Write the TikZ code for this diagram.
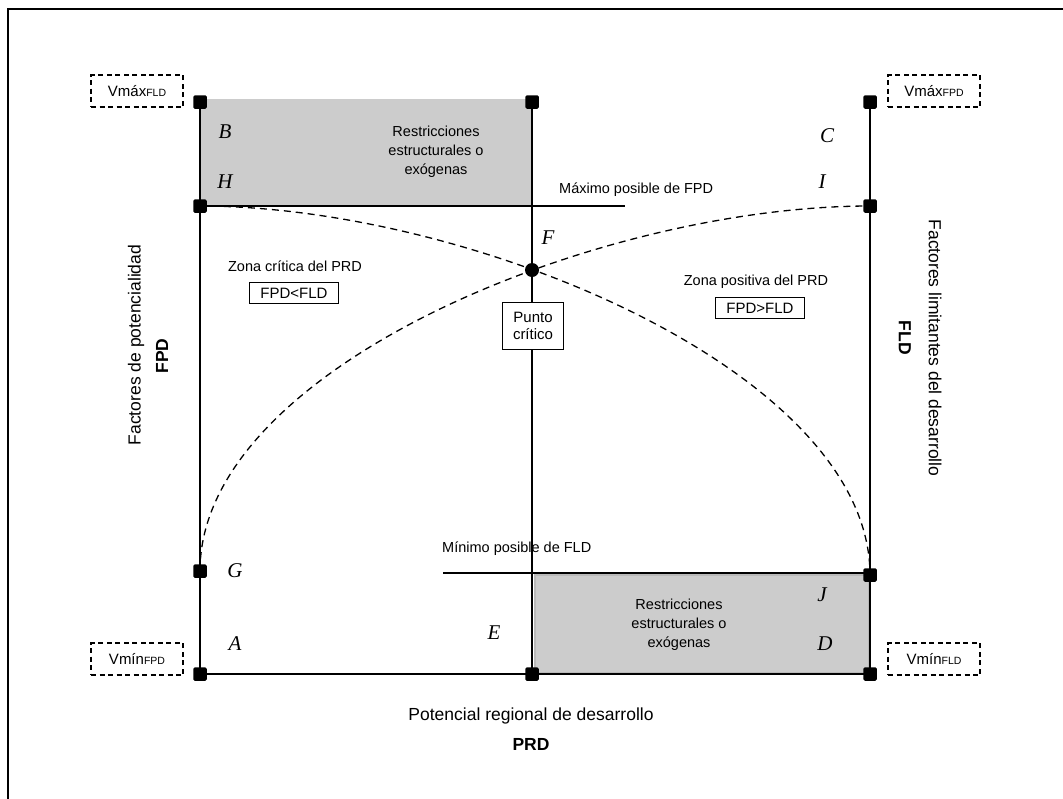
\documentclass[tikz,border=0pt]{standalone}
\usepackage{fontspec}
\setmainfont{Liberation Sans}
\newfontfamily\letterfont{Liberation Serif}
\definecolor{zonegray}{HTML}{CCCCCC}
\newcommand{\subtag}[1]{{\fontsize{10.5}{12}\selectfont #1}}
\begin{document}
\begin{tikzpicture}[x=1pt,y=-1pt,
  frameline/.style={line width=2pt},
  mainline/.style={line width=1.5pt},
  marker/.style={rectangle,fill=black,minimum size=13.5pt,inner sep=0pt,rounded corners=1.5pt},
  critdot/.style={circle,fill=black,minimum size=14pt,inner sep=0pt},
  curveline/.style={dash pattern=on 7pt off 5pt,line width=1.3pt},
  vbox/.style={draw,dash pattern=on 5pt off 3.5pt,line width=1.3pt,minimum width=92pt,minimum height=32pt,inner sep=0pt,font=\fontsize{15}{17}\selectfont},
  pointlbl/.style={font=\letterfont\itshape\fontsize{21}{24}\selectfont},
  smalltxt/.style={font=\fontsize{14.5}{19}\selectfont,align=center,inner sep=0pt},
  infobox/.style={draw,fill=white,line width=1.3pt,inner sep=0pt,font=\fontsize{15}{17}\selectfont,align=center},
  axislbl/.style={font=\fontsize{17.5}{21}\selectfont,inner sep=0pt},
  axisbold/.style={font=\fontsize{17.5}{21}\selectfont\bfseries,inner sep=0pt}
]
\useasboundingbox (0,0) rectangle (1063,798);

% outer frame (top and left sides)
\coordinate (frameBL) at (8,799);
\coordinate (frameTL) at (8,9);
\coordinate (frameTR) at (1063,9);
\draw[frameline] (frameBL) -- (frameTL) -- (frameTR);

% key points
\coordinate (B) at (200,102);
\coordinate (Bm) at (532,102);
\coordinate (C) at (870,102);
\coordinate (H) at (200,206);
\coordinate (I) at (870,206);
\coordinate (G) at (200,571);
\coordinate (J) at (870,575);
\coordinate (A) at (200,674);
\coordinate (E) at (532,674);
\coordinate (D) at (870,674);
\coordinate (F) at (532,270);
\coordinate (maxEnd) at (625,206);
\coordinate (minStart) at (443,573);

% shaded restriction zones
\fill[zonegray] (200,99) rectangle (532,206);
\filldraw[fill=zonegray,draw=gray!55,line width=1.5pt] (535,575) rectangle (869,673);

% frame lines of the diagram
\draw[mainline] (B) -- (A) -- (D) -- (C);
\draw[mainline] (Bm) -- (E);
\draw[mainline] (H) -- (maxEnd);
\draw[mainline] (minStart) -- (minStart -| J);

% FPD and FLD curves crossing at the critical point
\draw[curveline] (H) .. controls (470,206) and (870,371) .. (J);
\draw[curveline] (G) .. controls (200,367) and (600,206) .. (I);

% markers
\foreach \p in {B,Bm,C,H,I,G,J,A,E,D}
  \node[marker] (m\p) at (\p) {};
\node[critdot] (mF) at (F) {};

% point letters
\node[pointlbl] (lB) at (225,132) {B};
\node[pointlbl] (lH) at (225,182) {H};
\node[pointlbl] (lC) at (827,136) {C};
\node[pointlbl] (lI) at (822,182) {I};
\node[pointlbl] (lF) at (548,238) {F};
\node[pointlbl] (lG) at (235,571) {G};
\node[pointlbl] (lA) at (235,644) {A};
\node[pointlbl] (lE) at (494,633) {E};
\node[pointlbl] (lJ) at (822,595) {J};
\node[pointlbl] (lD) at (825,644) {D};

% extreme values
\node[vbox] (vmaxFLD) at (137,91) {Vmáx\subtag{FLD}};
\node[vbox] (vmaxFPD) at (934,91) {Vmáx\subtag{FPD}};
\node[vbox] (vminFPD) at (137,659) {Vmín\subtag{FPD}};
\node[vbox] (vminFLD) at (934,659) {Vmín\subtag{FLD}};

% zone texts
\node[smalltxt] (rtop) at (436,152) {Restricciones\\estructurales o\\exógenas};
\node[smalltxt] (rbot) at (679,625) {Restricciones\\estructurales o\\exógenas};
\node[smalltxt,anchor=west] (maxlbl) at (559,190) {Máximo posible de FPD};
\node[smalltxt,anchor=west] (minlbl) at (442,549) {Mínimo posible de FLD};
\node[smalltxt] (zcrit) at (295,266) {Zona crítica del PRD};
\node[infobox,minimum width=89pt,minimum height=21pt] (bcrit) at (294,293) {FPD<FLD};
\node[smalltxt] (zpos) at (756,282) {Zona positiva del PRD};
\node[infobox,minimum width=89pt,minimum height=21pt] (bpos) at (760,308) {FPD>FLD};
\node[infobox,minimum width=61pt,minimum height=47pt] (pcrit) at (533,326) {Punto\\crítico};

% axis titles
\node[axislbl] (xlbl) at (531,716) {Potencial regional de desarrollo};
\node[axisbold] (xprd) at (531,744) {PRD};
\node[axislbl,rotate=90] (ylbl) at (136,345) {Factores de potencialidad};
\node[axisbold,rotate=90] (yfpd) at (162,356) {FPD};
\node[axislbl,rotate=-90] (rlbl) at (935,348) {Factores limitantes del desarrollo};
\node[axisbold,rotate=-90] (rfld) at (905,338) {FLD};
\end{tikzpicture}
\end{document}
